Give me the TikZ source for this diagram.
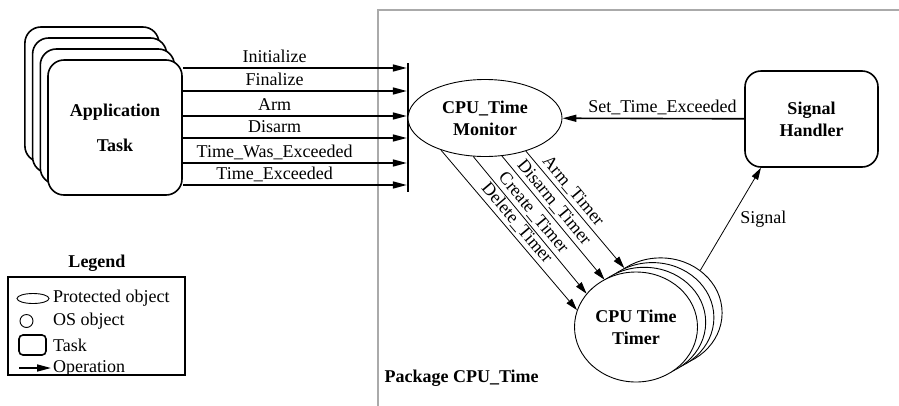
\documentclass[tikz,border=0pt]{standalone}
\usepackage{fontspec}
\setmainfont{Liberation Serif}
\usetikzlibrary{arrows.meta, shapes.geometric, calc}
\definecolor{pkggray}{RGB}{170,170,170}

\begin{document}
\begin{tikzpicture}[
  x=1pt, y=-1pt,
  font=\fontsize{18}{22}\selectfont,
  title/.style={font=\fontsize{18}{22}\selectfont\bfseries, align=center},
  task/.style={draw, line width=1.6pt, rounded corners=16pt, fill=white,
               minimum width=134pt, minimum height=135pt, align=center},
  prot/.style={draw, ellipse, line width=0.9pt, fill=white,
               minimum width=154pt, minimum height=77pt, inner sep=0pt},
  osobj/.style={draw, ellipse, line width=0.9pt, fill=white,
                minimum width=123pt, minimum height=110pt, inner sep=0pt},
  op/.style={-{Triangle[length=14pt, width=7pt]}, line width=1.6pt},
  call/.style={-{Triangle[length=12pt, width=7pt]}, line width=0.8pt},
  oplabel/.style={inner sep=1pt, text height=12pt, text depth=4pt},
  keytext/.style={anchor=west, inner sep=2pt},
  pkg/.style={draw=pkggray, line width=2pt}
]
\useasboundingbox (0,0) rectangle (899,405);

%% ---------- package frame ----------
\draw[pkg] (378,415) |- (910,10);
\node[title, anchor=west] (pkgname) at (381,378) {Package CPU\_Time};

%% ---------- left: application tasks ----------
\foreach \k in {3,2,1}
  \node[task] (task\k) at ({115-7.7*\k},{127.5-11*\k}) {};
\node[task, title] (task) at (115,127.5) {Application\\[13pt]Task};

\node[fill, minimum width=2pt, minimum height=129pt, inner sep=0pt]
  (opbar) at (408,127.5) {};

\foreach \y/\lbl in {68/Initialize, 91/Finalize, 116/Arm, 138/Disarm,
                     163/Time\_Was\_Exceeded, 185/Time\_Exceeded}
  \draw[op] (task.east |- 0,\y) -- (opbar.west |- 0,\y)
    node[oplabel, above, pos=0.41] {\lbl};

%% ---------- inside the package ----------
\node[prot, title] (monitor) at (485,118) {CPU\_Time\\Monitor};
\node[draw, line width=1.6pt, rounded corners=16pt, minimum width=133pt,
      minimum height=96pt, title] (handler) at (811.5,119) {Signal\\Handler};

\foreach \k in {3,2,1}
  \node[osobj] (timer\k) at ({636+8.2*\k},{327-4.7*\k}) {};
\node[osobj, title] (timer) at (636,327) {CPU Time\\Timer};

%% ---------- operations ----------
\draw[op] (handler) -- (monitor)
  node[oplabel, above, pos=0.45] {Set\_Time\_Exceeded};
\draw[call] (monitor.216) -- (timer.164)
  node[oplabel, above, sloped, pos=0.5] {Delete\_Timer};
\draw[call] (monitor.253) -- (timer.146)
  node[oplabel, above, sloped, pos=0.46] {Create\_Timer};
\draw[call] (monitor.294) -- (timer1.133)
  node[oplabel, above, sloped, pos=0.43] {Disarm\_Timer};
\draw[call] (monitor.321) -- (timer3.129)
  node[oplabel, above, sloped, pos=0.4] {Arm\_Timer};
\draw[call] (timer3.47) -- (handler.224)
  node[midway, right=6pt] {Signal};

%% ---------- legend ----------
\node[title] (legendtitle) at (97,263) {Legend};
\node[draw, line width=1.6pt, minimum width=177pt, minimum height=98pt]
  (legend) at (96.5,326) {};
\node[draw, ellipse, line width=0.9pt, minimum width=32pt, minimum height=10pt,
      inner sep=0pt] (keyprot) at (33,298.5) {};
\node[keytext] (keyprottext) at (51,298.5) {Protected object};
\node[draw, circle, line width=0.9pt, minimum size=13pt, inner sep=0pt]
  (keyos) at (26.5,321) {};
\node[keytext] (keyostext) at (51,321) {OS object};
\node[draw, line width=1.6pt, rounded corners=4pt, minimum width=27pt,
      minimum height=20pt, inner sep=0pt] (keytask) at (32.5,345) {};
\node[keytext] (keytasktext) at (51,345) {Task};
\coordinate (keyop) at (19,368);
\node[keytext] (keyoptext) at (51,368) {Operation};
\draw[op] (keyop) -- (keyoptext.west);
\end{tikzpicture}
\end{document}
